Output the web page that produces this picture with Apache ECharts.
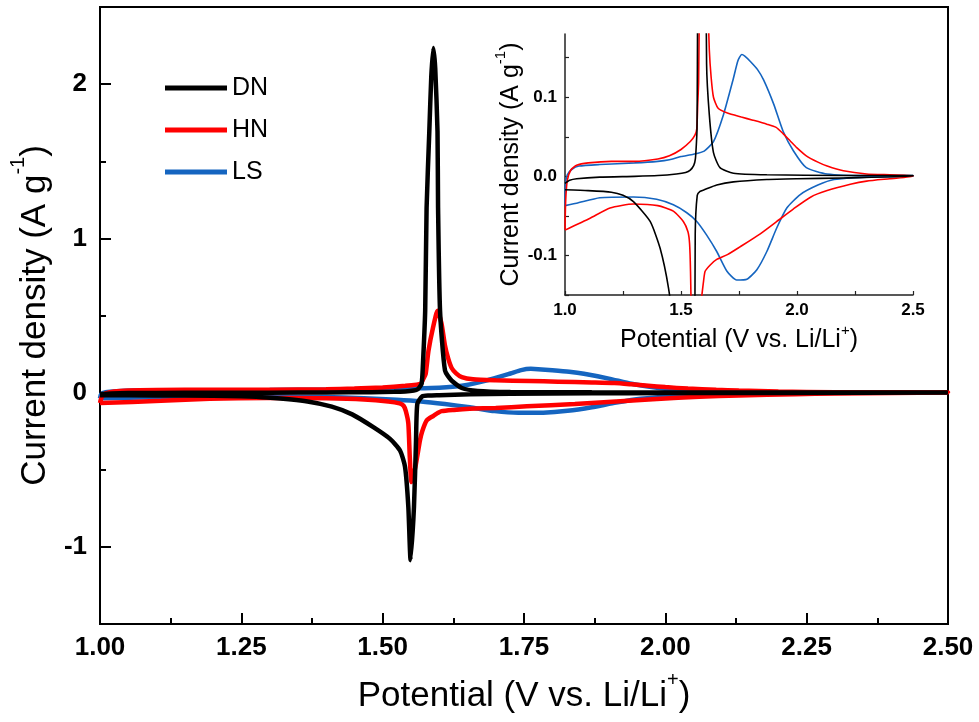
<!DOCTYPE html>
<html>
<head>
<meta charset="utf-8">
<script src="https://cdn.jsdelivr.net/npm/echarts@6/dist/echarts.min.js"></script>
<style>
  html, body { margin: 0; padding: 0; background: #fff; }
  #chart { width: 979px; height: 722px; }
</style>
</head>
<body>
<div id="chart"></div>
<script>
// Cyclic voltammograms of the three samples (potential in V vs. Li/Li+, current density in A g-1).
// Each loop = anodic sweep (1.0 -> 2.5 V) followed by cathodic sweep (2.5 -> 1.0 V).

const sampleNames = ['DN', 'HN', 'LS'];

// DN
const dnAnodicV = [1.000, 1.020, 1.050, 1.150, 1.300, 1.400, 1.480, 1.520, 1.540, 1.555, 1.562, 1.567, 1.569, 1.5707, 1.5752, 1.5777, 1.5825, 1.586, 1.5896, 1.593, 1.597, 1.598, 1.6015, 1.6103, 1.622, 1.640, 1.668, 1.726, 1.870, 2.200, 2.500];
const dnAnodicI = [-0.009, -0.005, -0.003, -0.001, 0.000, 0.001, 0.003, 0.005, 0.008, 0.014, 0.022, 0.045, 0.060, 0.142, 0.530, 1.198, 1.694, 2.050, 2.235, 2.100, 1.694, 1.198, 0.530, 0.142, 0.078, 0.030, 0.011, 0.004, 0.002, 0.001, 0.001];
const dnCathodicV = [2.500, 2.200, 2.000, 1.870, 1.726, 1.654, 1.600, 1.582, 1.570, 1.5613, 1.559, 1.5554, 1.5494, 1.5454, 1.5395, 1.5307, 1.513, 1.4835, 1.446, 1.410, 1.367, 1.295, 1.250, 1.200, 1.100, 1.000];
const dnCathodicI = [0.000, -0.002, -0.003, -0.004, -0.007, -0.011, -0.017, -0.019, -0.024, -0.073, -0.310, -0.740, -1.086, -0.740, -0.480, -0.375, -0.300, -0.224, -0.141, -0.091, -0.057, -0.032, -0.024, -0.020, -0.018, -0.017];

// HN
const hnAnodicV = [1.000, 1.003, 1.010, 1.025, 1.050, 1.100, 1.200, 1.300, 1.400, 1.450, 1.500, 1.540, 1.560, 1.568, 1.572, 1.576, 1.581, 1.589, 1.597, 1.604, 1.610, 1.616, 1.622, 1.630, 1.640, 1.660, 1.700, 1.760, 1.810, 1.870, 1.910, 1.940, 1.970, 2.000, 2.040, 2.090, 2.130, 2.200, 2.300, 2.400, 2.500];
const hnAnodicI = [-0.067, -0.030, -0.005, 0.008, 0.014, 0.017, 0.019, 0.019, 0.022, 0.026, 0.034, 0.044, 0.052, 0.060, 0.090, 0.120, 0.270, 0.420, 0.530, 0.450, 0.310, 0.220, 0.160, 0.125, 0.100, 0.086, 0.080, 0.075, 0.071, 0.066, 0.062, 0.054, 0.045, 0.036, 0.026, 0.018, 0.013, 0.007, 0.003, 0.002, 0.001];
const hnCathodicV = [2.500, 2.400, 2.300, 2.230, 2.130, 2.060, 1.985, 1.913, 1.840, 1.755, 1.700, 1.654, 1.626, 1.604, 1.597, 1.590, 1.578, 1.570, 1.566, 1.558, 1.551, 1.548, 1.5454, 1.541, 1.537, 1.530, 1.510, 1.467, 1.400, 1.295, 1.194, 1.108, 1.000];
const hnCathodicI = [0.000, -0.003, -0.006, -0.010, -0.018, -0.026, -0.041, -0.057, -0.073, -0.089, -0.099, -0.105, -0.112, -0.120, -0.133, -0.150, -0.180, -0.250, -0.310, -0.480, -0.580, -0.420, -0.200, -0.120, -0.085, -0.070, -0.057, -0.044, -0.037, -0.035, -0.040, -0.053, -0.068];

// LS
const lsAnodicV = [1.000, 1.002, 1.010, 1.030, 1.060, 1.150, 1.300, 1.400, 1.450, 1.500, 1.554, 1.600, 1.640, 1.683, 1.726, 1.745, 1.762, 1.775, 1.800, 1.830, 1.856, 1.900, 1.940, 1.985, 2.040, 2.130, 2.300, 2.500];
const lsAnodicI = [-0.037, -0.010, 0.002, 0.009, 0.013, 0.015, 0.017, 0.019, 0.021, 0.025, 0.028, 0.032, 0.044, 0.078, 0.124, 0.146, 0.154, 0.152, 0.145, 0.135, 0.122, 0.091, 0.057, 0.032, 0.011, 0.003, 0.001, 0.001];
const lsCathodicV = [2.500, 2.300, 2.160, 2.090, 2.014, 1.956, 1.913, 1.870, 1.827, 1.784, 1.740, 1.698, 1.654, 1.610, 1.568, 1.525, 1.467, 1.395, 1.295, 1.150, 1.050, 1.000];
const lsCathodicI = [0.000, -0.001, -0.004, -0.011, -0.023, -0.040, -0.065, -0.095, -0.118, -0.130, -0.131, -0.120, -0.095, -0.074, -0.057, -0.046, -0.036, -0.029, -0.026, -0.027, -0.034, -0.037];

// Axis ticks and labels
const mainXLabels = [1.00, 1.25, 1.50, 1.75, 2.00, 2.25, 2.50];
const mainYLabels = [-1, 0, 1, 2];
const mainYMinorTicks = [-0.5, 0.5, 1.5];
const insetXLabels = [1.0, 1.5, 2.0, 2.5];
const insetYLabels = [-0.1, 0.0, 0.1];
const insetYTicks = [-0.15, -0.1, -0.05, 0.0, 0.05, 0.1, 0.15];

const colors = { DN: '#000000', HN: '#ff0000', LS: '#1565c0' };

function loop(upV, upI, downV, downI) {
  const pts = [];
  upV.forEach((v, k) => pts.push([v, upI[k]]));
  downV.forEach((v, k) => pts.push([v, downI[k]]));
  return pts;
}

const curves = {
  DN: loop(dnAnodicV, dnAnodicI, dnCathodicV, dnCathodicI),
  HN: loop(hnAnodicV, hnAnodicI, hnCathodicV, hnCathodicI),
  LS: loop(lsAnodicV, lsAnodicI, lsCathodicV, lsCathodicI)
};

const FONT = '"Liberation Sans", Arial, sans-serif';
const drawOrder = ['LS', 'HN', 'DN'];

// Axis title with a raised superscript: a tall line box for the body text
// and a short one pinned to the top for the superscript.
function titleStyle(size, supSize, boxH) {
  return {
    color: '#000', fontFamily: FONT, fontSize: size,
    rich: {
      n: { fontSize: size, fontFamily: FONT, color: '#000', lineHeight: boxH, verticalAlign: 'bottom' },
      sup: { fontSize: supSize, fontFamily: FONT, color: '#000', lineHeight: 8, verticalAlign: 'top' }
    }
  };
}

const series = [];
drawOrder.forEach(name => {
  series.push({
    name, type: 'line', xAxisIndex: 0, yAxisIndex: 0,
    data: curves[name], showSymbol: false, symbol: 'none', smooth: 0.2,
    lineStyle: { color: colors[name], width: 4.5 }, itemStyle: { color: colors[name] },
    animation: false, clip: true
  });
});
drawOrder.forEach(name => {
  series.push({
    name, type: 'line', xAxisIndex: 1, yAxisIndex: 2,
    data: curves[name], showSymbol: false, symbol: 'none', smooth: 0.2,
    lineStyle: { color: colors[name], width: 1.6 }, itemStyle: { color: colors[name] },
    animation: false, clip: true
  });
});

const chart = echarts.init(document.getElementById('chart'));
chart.setOption({
  backgroundColor: '#ffffff',
  animation: false,
  textStyle: { fontFamily: FONT },
  legend: {
    data: sampleNames,
    orient: 'vertical',
    left: 160, top: 70,
    itemWidth: 62, itemHeight: 5, itemGap: 16,
    icon: 'rect',
    textStyle: { fontSize: 25, color: '#000', fontFamily: FONT, lineHeight: 26 },
    selectedMode: false
  },
  grid: [
    { left: 100, right: 31, top: 7, bottom: 98, show: true, borderColor: '#000', borderWidth: 2, backgroundColor: 'transparent' },
    { left: 565, right: 66, top: 34, bottom: 427, show: false }
  ],
  xAxis: [
    {
      type: 'value', gridIndex: 0, min: 1.0, max: 2.5, interval: 0.25,
      axisLine: { show: true, onZero: false, lineStyle: { color: '#000', width: 2 } },
      axisTick: { show: true, inside: true, length: 11, lineStyle: { color: '#000', width: 2 } },
      minorTick: { show: true, splitNumber: 2, length: 6, lineStyle: { color: '#000', width: 2 } },
      axisLabel: { customValues: mainXLabels, formatter: v => v.toFixed(2), fontSize: 26, fontWeight: 'bold', color: '#000', margin: 11, fontFamily: FONT },
      splitLine: { show: false },
      name: '{n|Potential (V vs. Li/Li}{sup|+}{n|)}', nameLocation: 'middle', nameGap: 46,
      nameTextStyle: titleStyle(35, 20, 44)
    },
    {
      type: 'value', gridIndex: 1, min: 1.0, max: 2.5, interval: 0.25,
      axisLine: { show: true, onZero: false, lineStyle: { color: '#222', width: 1.5 } },
      axisTick: { show: true, inside: true, length: 4, lineStyle: { color: '#222', width: 1.2 } },
      axisLabel: { customValues: insetXLabels, formatter: v => v.toFixed(1), fontSize: 17, fontWeight: 'bold', color: '#000', margin: 7, fontFamily: FONT },
      splitLine: { show: false },
      name: '{n|Potential (V vs. Li/Li}{sup|+}{n|)}', nameLocation: 'middle', nameGap: 28,
      nameTextStyle: titleStyle(25, 15, 30)
    }
  ],
  yAxis: [
    {
      type: 'value', gridIndex: 0, min: -1.5, max: 2.5,
      axisLine: { show: true, onZero: false, lineStyle: { color: '#000', width: 2 } },
      axisTick: { show: true, inside: true, length: 11, customValues: mainYLabels, lineStyle: { color: '#000', width: 2 } },
      axisLabel: { customValues: mainYLabels, formatter: v => String(v), fontSize: 26, fontWeight: 'bold', color: '#000', margin: 13, fontFamily: FONT },
      splitLine: { show: false },
      name: '{n|Current density (A g}{sup|-1}{n|)}', nameLocation: 'middle', nameGap: 42, nameRotate: 90,
      nameTextStyle: titleStyle(35, 20, 44)
    },
    {
      type: 'value', gridIndex: 0, min: -1.5, max: 2.5, position: 'left',
      axisLine: { show: false },
      axisTick: { show: true, inside: true, length: 6, customValues: mainYMinorTicks, lineStyle: { color: '#000', width: 2 } },
      axisLabel: { show: false },
      splitLine: { show: false }
    },
    {
      type: 'value', gridIndex: 1, min: -0.15, max: 0.18,
      axisLine: { show: true, onZero: false, lineStyle: { color: '#222', width: 1.5 } },
      axisTick: { show: true, inside: true, length: 4, customValues: insetYTicks, lineStyle: { color: '#222', width: 1.2 } },
      axisLabel: { customValues: insetYLabels, formatter: v => v.toFixed(1), fontSize: 17, fontWeight: 'bold', color: '#000', margin: 8, fontFamily: FONT },
      splitLine: { show: false },
      name: '{n|Current density (A g}{sup|-1}{n|)}', nameLocation: 'middle', nameGap: 36, nameRotate: 90,
      nameTextStyle: titleStyle(25, 15, 30)
    }
  ],
  series
});
</script>
</body>
</html>
